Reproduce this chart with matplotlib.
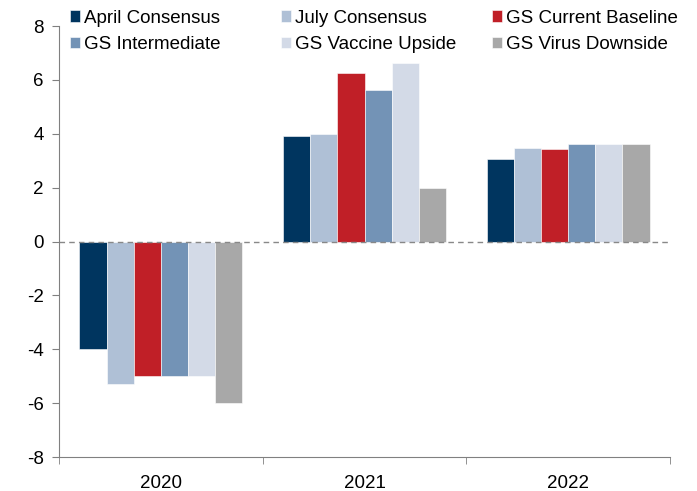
import numpy as np
import matplotlib
matplotlib.use("Agg")
import matplotlib.pyplot as plt

plt.rcParams['font.family'] = ['Liberation Sans', 'DejaVu Sans']
plt.rcParams['axes.unicode_minus'] = False

years = ['2020', '2021', '2022']
series = ['April Consensus', 'July Consensus', 'GS Current Baseline',
          'GS Intermediate', 'GS Vaccine Upside', 'GS Virus Downside']
april = [-4.0, 3.9, 3.05]
july = [-5.3, 4.0, 3.48]
baseline = [-5.0, 6.25, 3.44]
intermediate = [-5.0, 5.62, 3.61]
vaccine = [-5.0, 6.64, 3.63]
virus = [-6.0, 2.0, 3.61]
values = [april, july, baseline, intermediate, vaccine, virus]
colors = ['#00355F', '#AFC0D6', '#C01F27', '#7393B6', '#D3DAE7', '#A8A8A8']

W, H = 697, 491
fig = plt.figure(figsize=(W / 100, H / 100), dpi=100)
ax = fig.add_axes([59 / W, 1 - 457 / H, (670 - 59) / W, (457 - 26) / H])

x = np.arange(len(years))
w = 0.8 / len(series)
bars = []
for i, (vals, c) in enumerate(zip(values, colors)):
    b = ax.bar(x - 0.4 + w * (i + 0.5), vals, w, color=c, label=series[i],
               edgecolor='white', linewidth=0.4)
    bars.append(b)

ax.axhline(0, color='#888888', linestyle=(0, (4, 3)), linewidth=1)

ax.set_xlim(-0.5, 2.5)
ax.set_ylim(-8, 8)
ax.set_yticks(range(-8, 9, 2))
ax.set_xticks(x)
ax.set_xticklabels(years)
ax.set_xticks([-0.5, 0.5, 1.5, 2.5], minor=True)
ax.tick_params(axis='x', which='major', length=0, labelsize=13.5, pad=13)
ax.tick_params(axis='x', which='minor', length=5, color='#808080', direction='out')
ax.tick_params(axis='y', length=5, color='#808080', labelsize=13.5, direction='out', pad=6)
for s in ['top', 'right']:
    ax.spines[s].set_visible(False)
for s in ['left', 'bottom']:
    ax.spines[s].set_color('#808080')

# legend: three columns of two rows, equal column widths like the excel one
col_x = [70, 281, 492]
for k in range(3):
    idx = [k, k + 3]
    leg = fig.legend([bars[i] for i in idx], [series[i] for i in idx],
                     loc='center left', bbox_to_anchor=(col_x[k] / W, 1 - 31.5 / H),
                     frameon=False, fontsize=13.5, handlelength=0.55,
                     handleheight=0.55, handletextpad=0.22, labelspacing=0.52,
                     borderpad=0.0, borderaxespad=0.0)

fig.savefig('out.png', dpi=100)
